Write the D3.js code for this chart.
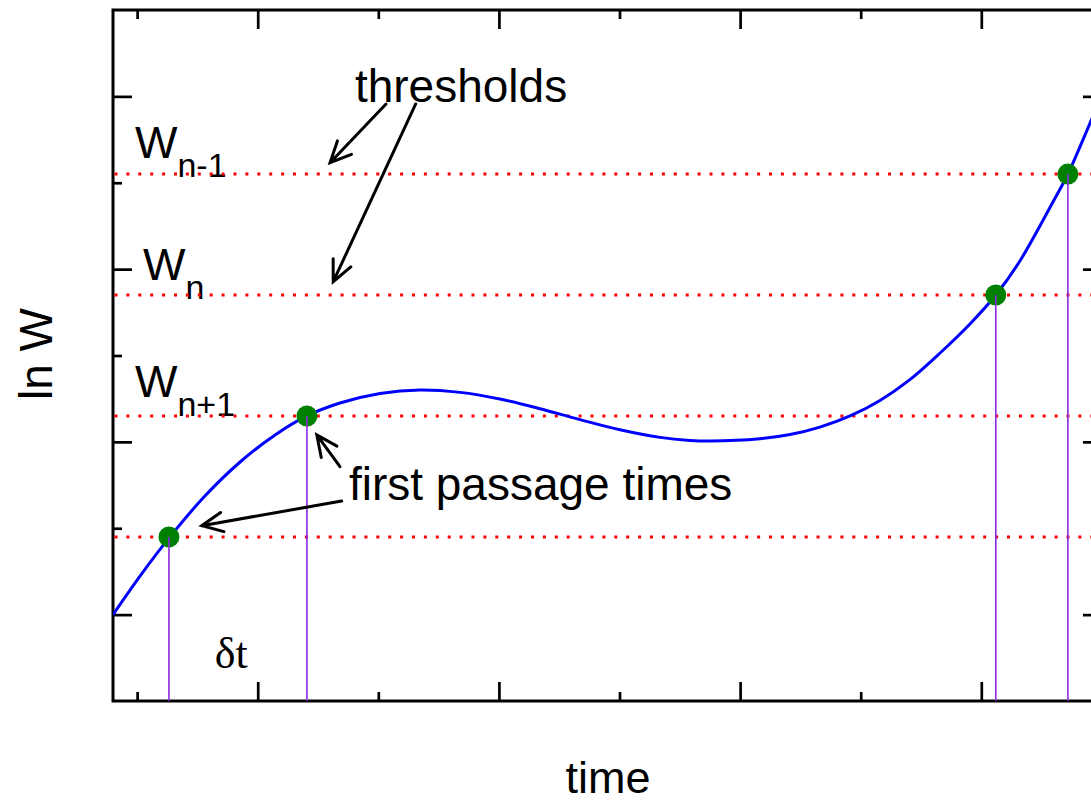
<!DOCTYPE html>
<html>
<head>
<meta charset="utf-8">
<script src="https://cdn.jsdelivr.net/npm/d3@7"></script>
<style>
  html, body { margin: 0; padding: 0; background: #fff; }
  svg { display: block; }
  text { font-family: "Liberation Sans", Arial, sans-serif; fill: #000; }
</style>
</head>
<body>
<svg id="chart" width="1091" height="803"></svg>
<script>
// Trajectory of ln W over time (hand-read samples of the smooth curve)
const curveTime = [0.400, 0.512, 0.636, 0.781, 0.927, 1.072, 1.204, 1.341, 1.507, 1.673,
                   1.839, 2.004, 2.170, 2.336, 2.502, 2.668, 2.792, 2.875, 3.082, 3.207,
                   3.331, 3.456, 3.580, 3.704, 3.829, 3.953, 4.060, 4.160, 4.297, 4.359,
                   4.451, 4.500];
const curveLnW = [1.000, 1.447, 1.900, 2.373, 2.767, 3.080, 3.300, 3.450, 3.560, 3.601,
                  3.573, 3.496, 3.384, 3.258, 3.140, 3.052, 3.017, 3.010, 3.036, 3.085,
                  3.171, 3.300, 3.480, 3.721, 4.029, 4.365, 4.700, 5.094, 5.777, 6.101,
                  6.692, 7.016];

// Threshold levels (ln W) and first passage times
const thresholds = [1.9, 3.3, 4.7, 6.1];
const passageTimes = [0.632, 1.204, 4.060, 4.359];
const passageLevels = [1.9, 3.3, 4.7, 6.1];

// Axis ticks
const xMajorTicks = [1, 2, 3, 4];
const xMinorTicks = [0.5, 1.5, 2.5, 3.5, 4.5];
const yMajorTicks = [1, 3, 5, 7];
const yMinorTicks = [2, 4, 6];

// Threshold labels: base, subscript, position (time, ln W of baseline)
const levelBase = ["W", "W", "W"];
const levelSub = ["n-1", "n", "n+1"];
const levelLabelTime = [0.491, 0.524, 0.491];
const levelLabelLnW = [6.287, 4.874, 3.520];

// Annotation arrows [fromTime, fromLnW, toTime, toLnW]
const arrowFromTime = [1.532, 1.655, 1.341, 1.348];
const arrowFromLnW = [6.912, 6.912, 2.713, 2.315];
const arrowToTime = [1.300, 1.313, 1.245, 0.768];
const arrowToLnW = [6.232, 4.854, 3.080, 2.030];

const svg = d3.select("#chart");
const plotLeft = 113, plotRight = 1101.9, plotTop = 10, plotBottom = 701;

const x = d3.scaleLinear().domain([0.4, 4.5]).range([plotLeft, plotRight]);
const y = d3.scaleLinear().domain([0, 8]).range([plotBottom, plotTop]);

svg.append("defs").append("clipPath").attr("id", "plotClip")
  .append("rect").attr("x", plotLeft).attr("y", plotTop)
  .attr("width", plotRight - plotLeft).attr("height", plotBottom - plotTop);

// Axis ticks (inward) on all four sides
function tickAxis(axisFn, scale, values, size, transform) {
  const g = svg.append("g").attr("transform", transform)
    .call(axisFn(scale).tickValues(values).tickSize(-size).tickFormat(""));
  g.select(".domain").remove();
  g.selectAll(".tick line").attr("stroke", "#000").attr("stroke-width", 2.7);
}
tickAxis(d3.axisBottom, x, xMajorTicks, 19, `translate(0,${plotBottom})`);
tickAxis(d3.axisBottom, x, xMinorTicks, 9, `translate(0,${plotBottom})`);
tickAxis(d3.axisTop, x, xMajorTicks, 19, `translate(0,${plotTop})`);
tickAxis(d3.axisTop, x, xMinorTicks, 9, `translate(0,${plotTop})`);
tickAxis(d3.axisLeft, y, yMajorTicks, 19, `translate(${plotLeft},0)`);
tickAxis(d3.axisLeft, y, yMinorTicks, 9, `translate(${plotLeft},0)`);
tickAxis(d3.axisRight, y, yMajorTicks, 19, `translate(${plotRight},0)`);
tickAxis(d3.axisRight, y, yMinorTicks, 9, `translate(${plotRight},0)`);

// Frame
svg.append("rect")
  .attr("x", plotLeft).attr("y", plotTop)
  .attr("width", plotRight - plotLeft).attr("height", plotBottom - plotTop)
  .attr("fill", "none").attr("stroke", "#000").attr("stroke-width", 3);

// Threshold labels
levelBase.forEach((b, i) => {
  const t = svg.append("text")
    .attr("x", x(levelLabelTime[i]))
    .attr("y", y(levelLabelLnW[i]))
    .attr("font-size", 45);
  t.append("tspan").text(b);
  t.append("tspan").attr("dy", 19).attr("font-size", 34).text(levelSub[i]);
});

// Threshold lines (red dotted)
svg.append("g").selectAll("line").data(thresholds).join("line")
  .attr("x1", plotLeft + 1.5).attr("x2", plotRight)
  .attr("y1", d => y(d)).attr("y2", d => y(d))
  .attr("stroke", "#ff0000").attr("stroke-width", 3)
  .attr("stroke-dasharray", "3 8.9");

// ln W trajectory
const lineGen = d3.line()
  .x((d, i) => x(curveTime[i]))
  .y(d => y(d))
  .curve(d3.curveCatmullRom.alpha(0.5));
svg.append("path")
  .attr("clip-path", "url(#plotClip)")
  .attr("d", lineGen(curveLnW))
  .attr("fill", "none").attr("stroke", "#0000ff").attr("stroke-width", 3);

// First passage points
svg.append("g").selectAll("circle").data(passageTimes).join("circle")
  .attr("cx", d => x(d))
  .attr("cy", (d, i) => y(passageLevels[i]))
  .attr("r", 10.5)
  .attr("fill", "#008000");

// Drop lines to the time axis
svg.append("g").selectAll("line").data(passageTimes).join("line")
  .attr("x1", d => x(d)).attr("x2", d => x(d))
  .attr("y1", (d, i) => y(passageLevels[i])).attr("y2", plotBottom)
  .attr("stroke", "#8a2be2").attr("stroke-width", 1.6);

// Annotation text
svg.append("text").attr("x", x(1.403)).attr("y", y(6.938))
  .attr("font-size", 46).text("thresholds");
svg.append("text").attr("x", x(1.378)).attr("y", y(2.327))
  .attr("font-size", 46).text("first passage times");
svg.append("text").attr("x", x(0.822)).attr("y", y(0.382))
  .attr("font-size", 44)
  .style("font-family", "'Liberation Serif', 'Times New Roman', serif")
  .text("δt");

// Arrows with open V heads
const arrows = svg.append("g").attr("stroke", "#000").attr("stroke-width", 3)
  .attr("fill", "none").attr("stroke-linecap", "round");
arrowFromTime.forEach((ft, i) => {
  const x0 = x(ft), y0 = y(arrowFromLnW[i]);
  const x1 = x(arrowToTime[i]), y1 = y(arrowToLnW[i]);
  const ang = Math.atan2(y1 - y0, x1 - x0);
  const len = 23, spread = 25 * Math.PI / 180;
  const a1 = ang + Math.PI - spread, a2 = ang + Math.PI + spread;
  arrows.append("path").attr("d",
    `M${x0},${y0}L${x1},${y1}` +
    `M${x1 + len * Math.cos(a1)},${y1 + len * Math.sin(a1)}L${x1},${y1}` +
    `L${x1 + len * Math.cos(a2)},${y1 + len * Math.sin(a2)}`);
});

// Axis titles
svg.append("text").attr("x", 608).attr("y", 793)
  .attr("text-anchor", "middle").attr("font-size", 45).text("time");
svg.append("text")
  .attr("transform", "translate(52,354) rotate(-90)")
  .attr("text-anchor", "middle").attr("font-size", 46).text("ln W");
</script>
</body>
</html>
